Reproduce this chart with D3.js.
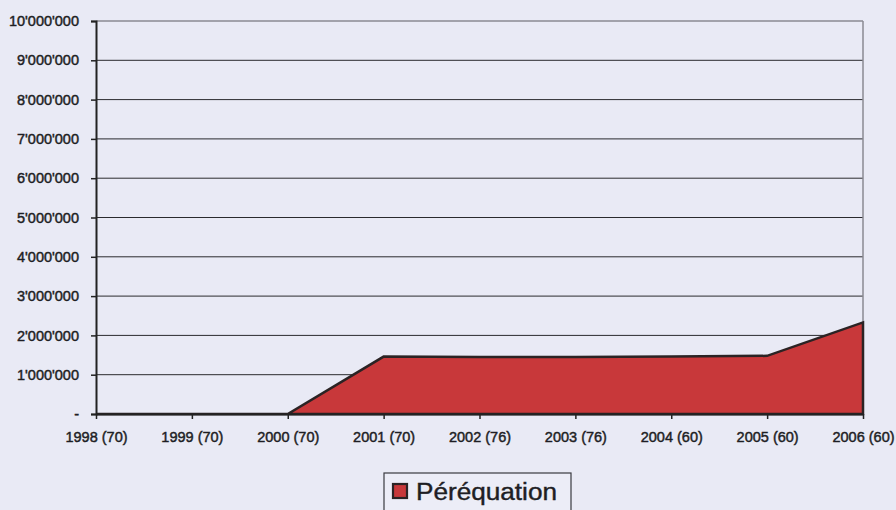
<!DOCTYPE html>
<html>
<head>
<meta charset="utf-8">
<script src="https://cdn.jsdelivr.net/npm/d3@7"></script>
<style>
  html, body { margin: 0; padding: 0; background: #e9eaf5; }
  svg { display: block; }
  text { font-family: "Liberation Sans", Arial, sans-serif; }
</style>
</head>
<body>
<svg id="chart" width="896" height="510"></svg>
<script>
// Yearly equalisation amounts (number of participants in parentheses)
const categories = ["1998 (70)", "1999 (70)", "2000 (70)", "2001 (70)", "2002 (76)",
                    "2003 (76)", "2004 (60)", "2005 (60)", "2006 (60)"];
const perequation = [0, 0, 0, 1460000, 1450000, 1450000, 1460000, 1480000, 2330000];
const yTicks = [0, 1000000, 2000000, 3000000, 4000000, 5000000,
                6000000, 7000000, 8000000, 9000000, 10000000];
const seriesName = "Péréquation";

const svg = d3.select("#chart");
const margin = { left: 96, right: 33, top: 21, bottom: 96 };
const W = 896, H = 510;
const innerW = W - margin.left - margin.right;
const innerH = H - margin.top - margin.bottom;

const x = d3.scalePoint().domain(categories).range([margin.left, margin.left + innerW]);
const y = d3.scaleLinear().domain([0, 10000000]).range([margin.top + innerH, margin.top]);

const fmt = v => v === 0 ? "-" : d3.format(",")(v).replace(/,/g, "'");
const ink = "#1e1e24";

// Horizontal gridlines
svg.append("g")
  .selectAll("line")
  .data(yTicks.filter(t => t > 0))
  .join("line")
  .attr("x1", margin.left).attr("x2", margin.left + innerW)
  .attr("y1", d => y(d)).attr("y2", d => y(d))
  .attr("stroke", d => d === 10000000 ? "#8a8a92" : "#2a2a2e")
  .attr("stroke-width", d => d === 10000000 ? 1.5 : 1);

// Right border of plot area
svg.append("line")
  .attr("x1", margin.left + innerW).attr("x2", margin.left + innerW)
  .attr("y1", margin.top).attr("y2", margin.top + innerH)
  .attr("stroke", "#8a8a92").attr("stroke-width", 1.5);

// Area series
const area = d3.area()
  .x((d, i) => x(categories[i]))
  .y0(y(0))
  .y1(d => y(d));
svg.append("path")
  .datum(perequation)
  .attr("d", area)
  .attr("fill", "#c8383a")
  .attr("stroke", "#2b2324")
  .attr("stroke-width", 2.5)
  .attr("stroke-linejoin", "miter");

function styleLabels(sel, size) {
  sel.attr("font-size", size).attr("font-weight", "normal")
    .attr("fill", ink).attr("stroke", ink).attr("stroke-width", 0.45)
    .style("font-family", "'Liberation Sans', Arial, sans-serif");
}

// Y axis
const yAxis = svg.append("g")
  .attr("transform", `translate(${margin.left},0)`)
  .call(d3.axisLeft(y).tickValues(yTicks).tickFormat(fmt).tickSize(5).tickPadding(12));
yAxis.select(".domain").attr("stroke", "#222").attr("stroke-width", 2);
yAxis.selectAll(".tick line").attr("stroke", "#222").attr("stroke-width", 1.5);
styleLabels(yAxis.selectAll("text"), 14.5);

// X axis
const xAxis = svg.append("g")
  .attr("transform", `translate(0,${margin.top + innerH})`)
  .call(d3.axisBottom(x).tickSize(5).tickPadding(13).tickSizeOuter(0));
xAxis.select(".domain").attr("stroke", "#222").attr("stroke-width", 2);
xAxis.selectAll(".tick line").attr("stroke", "#222").attr("stroke-width", 1.5);
styleLabels(xAxis.selectAll("text"), 14.5);

// Legend
const lg = svg.append("g").attr("transform", "translate(384,473)");
lg.append("rect")
  .attr("x", 0).attr("y", 0).attr("width", 187).attr("height", 40)
  .attr("fill", "#ecedf7").attr("stroke", "#3a3a40").attr("stroke-width", 1.2);
lg.append("rect")
  .attr("x", 9).attr("y", 11).attr("width", 14).attr("height", 14)
  .attr("fill", "#c8383a").attr("stroke", "#2b2324").attr("stroke-width", 2.2);
lg.append("text")
  .attr("x", 32).attr("y", 26.5)
  .attr("font-size", 23).attr("fill", ink)
  .attr("stroke", ink).attr("stroke-width", 0.4)
  .attr("textLength", 141).attr("lengthAdjust", "spacingAndGlyphs")
  .text(seriesName);
</script>
</body>
</html>
